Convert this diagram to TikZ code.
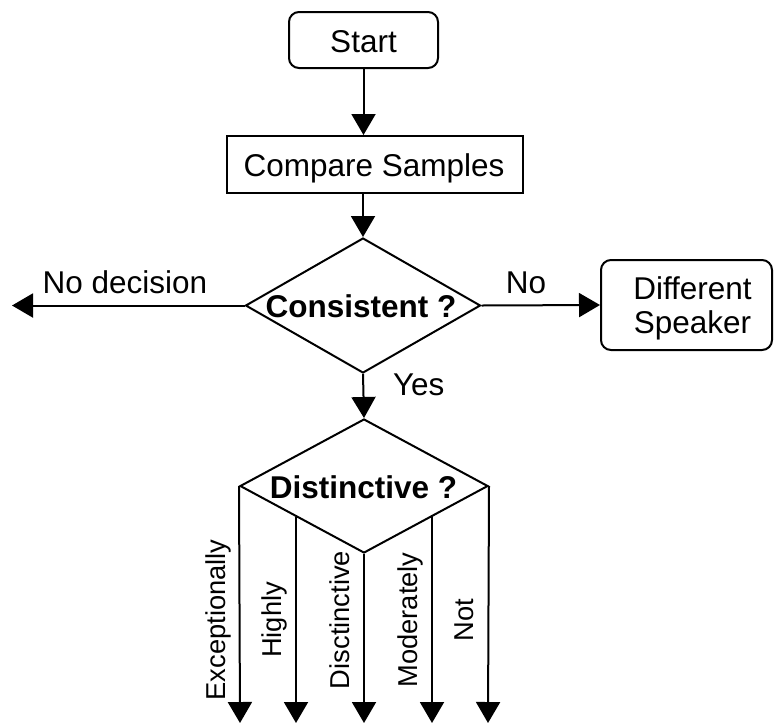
\documentclass[tikz,border=0pt]{standalone}
\usepackage{fontspec}
\setmainfont{Liberation Sans}
\usetikzlibrary{arrows.meta,shapes.geometric,calc}
\begin{document}
\begin{tikzpicture}[x=1pt,y=-1pt,
  line width=2pt,
  big/.style={font=\fontsize{31.5pt}{35pt}\selectfont},
  small/.style={font=\fontsize{27.3pt}{30pt}\selectfont},
  rbox/.style={draw,rounded corners=10pt,inner sep=0pt},
  sbox/.style={draw,inner sep=0pt},
  dbox/.style={draw,diamond,inner sep=0pt},
  arr/.style={-{Triangle[width=24pt,length=21pt]}},
  vlab/.style={small,rotate=90,anchor=base,inner sep=0pt},
  txt/.style={big,inner sep=0pt}]
\useasboundingbox (0,0) rectangle (774,724);
% nodes
\node[rbox,minimum width=149pt,minimum height=56pt] (start) at (363.5,40) {};
\node[txt,anchor=base] (starttxt) at (363.5,52) {Start};
\node[sbox,minimum width=296pt,minimum height=57pt] (cmp) at (375,164.5) {};
\node[txt,anchor=base] (cmptxt) at (374,176.5) {Compare Samples};
\node[dbox,minimum width=235pt,minimum height=135pt] (cons) at (363,305.5) {};
\node[txt,anchor=base,font=\fontsize{31.5pt}{35pt}\selectfont\bfseries] (constxt) at (361,317) {Consistent ?};
\node[rbox,minimum width=171pt,minimum height=90pt] (diff) at (686.5,305) {};
\node[txt,anchor=base] (difftxt1) at (692.5,299) {Different};
\node[txt,anchor=base] (difftxt2) at (692.5,333.5) {Speaker};
\node[dbox,minimum width=248pt,minimum height=134pt] (dist) at (364,486) {};
\node[txt,anchor=base,font=\fontsize{31.5pt}{35pt}\selectfont\bfseries] (disttxt) at (363.5,498) {Distinctive ?};
% free ends
\coordinate (nd) at (12,305.5);
\coordinate (b1) at (240,723);
\coordinate (b2) at (296,723);
\coordinate (b3) at (364,723);
\coordinate (b4) at (432,723);
\coordinate (b5) at (488,723);
\coordinate (s2) at ($(dist.west)!0.455!(dist.south)$);
\coordinate (s4) at ($(dist.east)!0.455!(dist.south)$);
% connectors
\draw[arr] (start.south) -- (start.south |- cmp.north);
\draw[arr] (cons.north |- cmp.south) -- (cons.north);
\draw[arr] (cons.west) -- (nd);
\draw[arr] (cons.east) -- (diff.west);
\draw[arr] (cons.south) -- (dist.north);
\draw[arr] (dist.west) -- (b1);
\draw[arr] (s2) -- (b2 |- s2) -- (b2);
\draw[arr] (dist.south) -- (b3);
\draw[arr] (s4) -- (b4 |- s4) -- (b4);
\draw[arr] (dist.east) -- (b5);
% labels
\node[txt,anchor=base] (lnd) at (125,293) {No decision};
\node[txt,anchor=base] (lno) at (526,293) {No};
\node[txt,anchor=base west] (lyes) at (392,395) {Yes};
\node[vlab] (l1) at (225.5,620) {Exceptionally};
\node[vlab] (l2) at (281.5,620) {Highly};
\node[vlab] (l3) at (349,620) {Disctinctive};
\node[vlab] (l4) at (417,620) {Moderately};
\node[vlab] (l5) at (473,620) {Not};
\end{tikzpicture}
\end{document}
